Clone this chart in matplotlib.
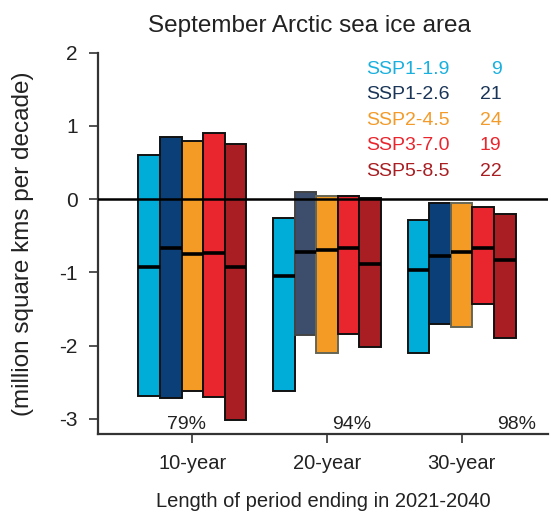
import numpy as np
import matplotlib
matplotlib.use("Agg")
import matplotlib.pyplot as plt

plt.rcParams['font.family'] = ['Liberation Sans', 'DejaVu Sans']

# Data
periods = ['10-year', '20-year', '30-year']
scenarios = ['SSP1-1.9', 'SSP1-2.6', 'SSP2-4.5', 'SSP3-7.0', 'SSP5-8.5']
model_counts = [9, 21, 24, 19, 22]
colors = ['#00acd8', '#0a3f78', '#f39b24', '#e9262e', '#a81e22']
text_colors = ['#1ab0de', '#1a3557', '#f39b2a', '#e9262e', '#a81e22']

# range top, range bottom and median per scenario (rows) and period (cols)
tops = [[0.61, -0.25, -0.28],
        [0.85, 0.10, -0.05],
        [0.79, 0.05, -0.05],
        [0.91, 0.05, -0.10],
        [0.76, 0.02, -0.20]]
bottoms = [[-2.68, -2.62, -2.10],
           [-2.72, -1.85, -1.71],
           [-2.62, -2.10, -1.75],
           [-2.70, -1.84, -1.43],
           [-3.01, -2.02, -1.89]]
medians = [[-0.92, -1.05, -0.97],
           [-0.67, -0.72, -0.78],
           [-0.75, -0.70, -0.72],
           [-0.73, -0.67, -0.66],
           [-0.93, -0.89, -0.83]]
percent_labels = ['79%', '94%', '98%']

fig = plt.figure(figsize=(5.54, 5.14), dpi=100)
ax = fig.add_axes([0.177, 0.155, 0.812, 0.7425])

x = np.arange(1, len(periods) + 1)
width = 0.16
for i, name in enumerate(scenarios):
    pos = x + (i - 2) * width
    top = np.array(tops[i])
    bot = np.array(bottoms[i])
    face = [colors[i]] * len(periods)
    edge = ['#111111'] * len(periods)
    if name == 'SSP1-2.6':
        face[1] = '#3d4e6c'
        edge[1] = '#444444'
    if name == 'SSP2-4.5':
        edge[1] = '#666655'
        edge[2] = '#666655'
    ax.bar(pos, top - bot, bottom=bot, width=width, color=face,
           edgecolor=edge, linewidth=1.4, zorder=2)
    ax.hlines(medians[i], pos - width / 2, pos + width / 2,
              colors='black', linewidth=2.6, zorder=3)

ax.axhline(0, color='black', linewidth=1.8, zorder=4)

for xi, lab in zip([0.955, 2.18, 3.41], percent_labels):
    ax.text(xi, -3.14, lab, ha='center', va='baseline', fontsize=14,
            color='#222222')

# Scenario "legend" with model counts
for i, name in enumerate(scenarios):
    yy = 0.957 - i * 0.0668
    ax.text(0.597, yy, name, transform=ax.transAxes, ha='left',
            va='center', fontsize=14, color=text_colors[i])
    ax.text(0.897, yy, str(model_counts[i]), transform=ax.transAxes,
            ha='right', va='center', fontsize=14, color=text_colors[i])

ax.set_xlim(0.30, 3.64)
ax.set_ylim(-3.21, 2.0)
ax.set_xticks(x)
ax.set_xticklabels(periods, fontsize=14.5)
ax.set_yticks([2, 1, 0, -1, -2, -3])
ax.set_yticklabels(['2', '1', '0', '-1', '-2', '-3'], fontsize=15)
ax.tick_params(axis='both', length=6.5, width=1.2, color='#333333',
               pad=8, labelcolor='#222222')
for side in ['top', 'right']:
    ax.spines[side].set_visible(False)
for side in ['left', 'bottom']:
    ax.spines[side].set_linewidth(1.6)
    ax.spines[side].set_color('#333333')

ax.set_xlabel('Length of period ending in 2021-2040', fontsize=14.5,
              color='#222222', labelpad=13)
ax.set_ylabel('(million square kms per decade)', fontsize=17.5,
              color='#222222', labelpad=18)
fig.text(0.558, 0.9387, 'September Arctic sea ice area', ha='center',
         va='baseline', fontsize=17.5, color='#222222')

fig.savefig('out.png', dpi=100)
